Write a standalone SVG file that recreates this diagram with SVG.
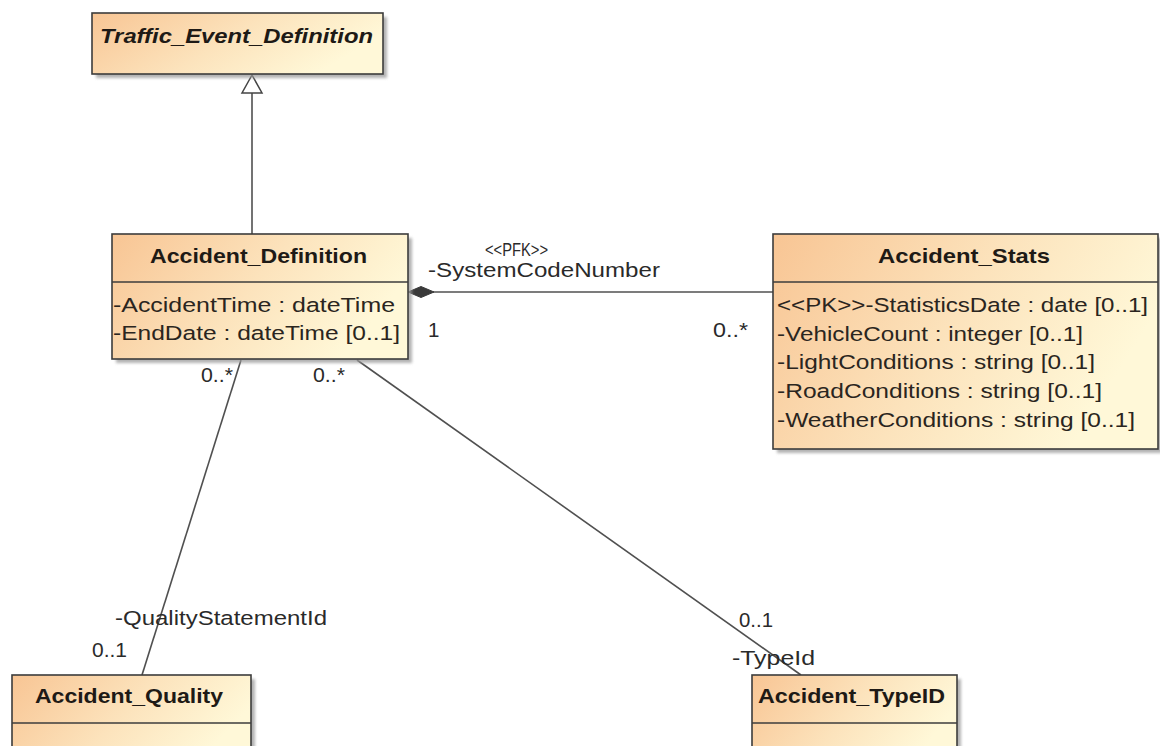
<svg xmlns="http://www.w3.org/2000/svg" width="1160" height="746" viewBox="0 0 1160 746">
  <defs>
    <linearGradient id="classFill" x1="0" y1="0" x2="1" y2="0.35">
      <stop offset="0" stop-color="#f8c594"/>
      <stop offset="0.55" stop-color="#fce3bc"/>
      <stop offset="1" stop-color="#fff8d8"/>
    </linearGradient>
    <filter id="soft" x="-5%" y="-5%" width="110%" height="110%">
      <feGaussianBlur stdDeviation="1.5"/>
    </filter>
    <!-- hollow triangle for generalization; tip sits on the path end -->
    <marker id="generalization" markerWidth="24" markerHeight="24" refX="21" refY="12" orient="auto" markerUnits="userSpaceOnUse" viewBox="0 0 24 24">
      <path d="M21 12 L3 2 L3 22 Z" fill="#ffffff" stroke="#444" stroke-width="1.5"/>
    </marker>
  </defs>
  <style>
    .shadow { fill: #9a9a9a; opacity: 0.75; filter: url(#soft); }
    .box { fill: url(#classFill); stroke: #3c3c3c; stroke-width: 1.6; }
    .divider { stroke: #3c3c3c; stroke-width: 1.6; }
    .title { font-family: "Liberation Sans", Arial, sans-serif; font-weight: bold; font-size: 21px; fill: #1e1a16; }
    .abstract { font-style: italic; }
    .attr { font-family: "Liberation Sans", Arial, sans-serif; font-size: 20.5px; fill: #2a2520; }
    .edge { fill: none; stroke: #505050; stroke-width: 1.6; }
    .label { font-family: "Liberation Sans", Arial, sans-serif; font-size: 20.5px; fill: #2a2a2a; }
    .small { font-size: 18px; }
  </style>

  <rect width="1160" height="746" fill="#ffffff"/>

  <!-- associations and generalization -->
  <g id="connectors">
    <line class="edge" x1="252" y1="235" x2="252" y2="75" marker-end="url(#generalization)"/>
    <line class="edge" x1="433" y1="292" x2="773" y2="292"/>
    <path d="M408 292 L421 286.5 L434 292 L421 297.5 Z" fill="#3a3a3a" stroke="#3a3a3a" stroke-width="1"/>
    <line class="edge" x1="241" y1="360" x2="142" y2="675"/>
    <line class="edge" x1="357" y1="360" x2="801" y2="675"/>

    <text class="label small" x="485" y="256" textLength="63" lengthAdjust="spacingAndGlyphs">&lt;&lt;PFK&gt;&gt;</text>
    <text class="label" x="428" y="277" textLength="232" lengthAdjust="spacingAndGlyphs">-SystemCodeNumber</text>
    <text class="label" x="428" y="337">1</text>
    <text class="label" x="713" y="337" textLength="35" lengthAdjust="spacingAndGlyphs">0..*</text>
    <text class="label" x="201" y="382" textLength="32" lengthAdjust="spacingAndGlyphs">0..*</text>
    <text class="label" x="313" y="382" textLength="32" lengthAdjust="spacingAndGlyphs">0..*</text>
    <text class="label" x="115" y="625" textLength="212" lengthAdjust="spacingAndGlyphs">-QualityStatementId</text>
    <text class="label" x="92" y="657" textLength="35" lengthAdjust="spacingAndGlyphs">0..1</text>
    <text class="label" x="739" y="627" textLength="34" lengthAdjust="spacingAndGlyphs">0..1</text>
    <text class="label" x="732" y="665" textLength="83" lengthAdjust="spacingAndGlyphs">-TypeId</text>
  </g>

  <g id="Traffic_Event_Definition">
    <rect class="shadow" x="96" y="17" width="291" height="61"/>
    <rect class="box" x="92" y="13" width="291" height="61"/>
    <text class="title abstract" x="100" y="43" textLength="273" lengthAdjust="spacingAndGlyphs">Traffic_Event_Definition</text>
  </g>

  <g id="Accident_Definition">
    <rect class="shadow" x="116" y="238" width="296" height="125"/>
    <rect class="box" x="112" y="234" width="296" height="125"/>
    <line class="divider" x1="112" y1="282" x2="408" y2="282"/>
    <text class="title" x="150" y="263" textLength="217" lengthAdjust="spacingAndGlyphs">Accident_Definition</text>
    <text class="attr" x="113" y="312" textLength="282" lengthAdjust="spacingAndGlyphs">-AccidentTime : dateTime</text>
    <text class="attr" x="113" y="340" textLength="287" lengthAdjust="spacingAndGlyphs">-EndDate : dateTime [0..1]</text>
  </g>

  <g id="Accident_Stats">
    <rect class="shadow" x="777" y="238" width="385" height="215"/>
    <rect class="box" x="773" y="234" width="385" height="215"/>
    <line class="divider" x1="773" y1="282" x2="1158" y2="282"/>
    <text class="title" x="878" y="263" textLength="172" lengthAdjust="spacingAndGlyphs">Accident_Stats</text>
    <text class="attr" x="777" y="312" textLength="371" lengthAdjust="spacingAndGlyphs">&lt;&lt;PK&gt;&gt;-StatisticsDate : date [0..1]</text>
    <text class="attr" x="777" y="341" textLength="306" lengthAdjust="spacingAndGlyphs">-VehicleCount : integer [0..1]</text>
    <text class="attr" x="777" y="369" textLength="318" lengthAdjust="spacingAndGlyphs">-LightConditions : string [0..1]</text>
    <text class="attr" x="777" y="398" textLength="325" lengthAdjust="spacingAndGlyphs">-RoadConditions : string [0..1]</text>
    <text class="attr" x="777" y="427" textLength="358" lengthAdjust="spacingAndGlyphs">-WeatherConditions : string [0..1]</text>
  </g>

  <g id="Accident_Quality">
    <rect class="shadow" x="16" y="679" width="239" height="90"/>
    <rect class="box" x="12" y="675" width="239" height="90"/>
    <line class="divider" x1="12" y1="723" x2="251" y2="723"/>
    <text class="title" x="35" y="703" textLength="188" lengthAdjust="spacingAndGlyphs">Accident_Quality</text>
  </g>

  <g id="Accident_TypeID">
    <rect class="shadow" x="756" y="679" width="205" height="90"/>
    <rect class="box" x="752" y="675" width="205" height="90"/>
    <line class="divider" x1="752" y1="723" x2="957" y2="723"/>
    <text class="title" x="758" y="703" textLength="187" lengthAdjust="spacingAndGlyphs">Accident_TypeID</text>
  </g>
</svg>
